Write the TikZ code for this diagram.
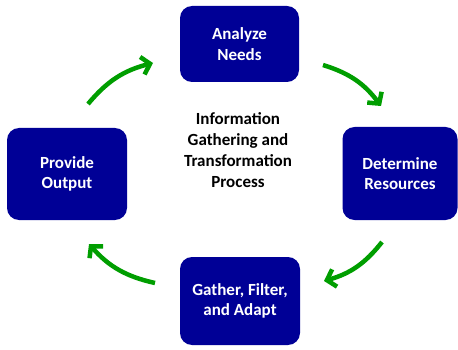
\documentclass[tikz,border=0pt]{standalone}
\usepackage{fontspec}
\setmainfont{Carlito}
\usetikzlibrary{arrows.meta}

\definecolor{stepblue}{RGB}{0,0,150}
\definecolor{cyclegreen}{RGB}{0,158,0}

\begin{document}
\begin{tikzpicture}[x=1pt, y=-1pt,
    stepbox/.style={fill=stepblue, rounded corners=12pt, align=center,
        text=white, font=\fontsize{17}{20.5}\selectfont\bfseries,
        inner sep=0pt},
    cyclearrow/.style={draw=cyclegreen, line width=4.5pt,
        -{Straight Barb[length=8pt, width=18pt]}, bend left=18}]
    \useasboundingbox (0,0) rectangle (458,350);

    % Four steps of the cycle
    \node[stepbox, minimum width=119pt, minimum height=76pt] (analyze) at (239.5,44) {Analyze\\Needs};
    \node[stepbox, minimum width=115pt, minimum height=93pt] (determine) at (400,173.5) {Determine\\Resources};
    \node[stepbox, minimum width=120pt, minimum height=88pt] (gather) at (240,301) {Gather, Filter,\\and Adapt};
    \node[stepbox, minimum width=120pt, minimum height=92pt] (provide) at (67,174) {Provide\\Output};

    % Title in the middle
    \node[align=center, font=\fontsize{17}{21}\selectfont\bfseries] (title) at (238,150)
        {Information\\Gathering and\\Transformation\\Process};

    % Arrow ends
    \coordinate (out1) at (88,104);
    \coordinate (in1) at (153,63);
    \coordinate (out2) at (323,65);
    \coordinate (in2) at (381,106);
    \coordinate (out3) at (382,242);
    \coordinate (in3) at (324,281);
    \coordinate (out4) at (155,283);
    \coordinate (in4) at (89,244);

    % Clockwise arrows
    \draw[cyclearrow] (out1) to (in1);
    \draw[cyclearrow] (out2) to (in2);
    \draw[cyclearrow] (out3) to (in3);
    \draw[cyclearrow] (out4) to (in4);
\end{tikzpicture}
\end{document}
